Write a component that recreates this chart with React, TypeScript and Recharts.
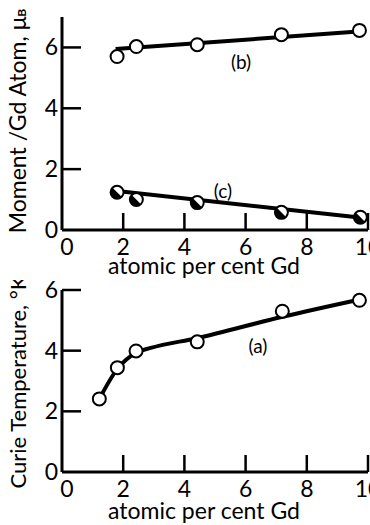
import { ComposedChart, Line, Scatter, XAxis, YAxis } from "recharts"

const xTicks = [0, 2, 4, 6, 8, 10]
const yTicks = [0, 2, 4, 6]

// (b) moment per Gd atom, open circles
const bX = [1.8, 2.43, 4.42, 7.17, 9.72]
const bY = [5.7, 6.03, 6.09, 6.42, 6.56]
const bFitX = [1.75, 9.8]
const bFitY = [5.95, 6.53]

// (c) half-filled circles
const cX = [1.8, 2.43, 4.42, 7.17, 9.75]
const cY = [1.24, 1.0, 0.9, 0.58, 0.42]
const cFitX = [1.8, 9.8]
const cFitY = [1.28, 0.4]

// (a) Curie temperature
const aX = [1.22, 1.81, 2.42, 4.42, 7.2, 9.72]
const aY = [2.41, 3.44, 3.99, 4.29, 5.3, 5.66]
const aCurveX = [1.22, 1.81, 2.42, 2.9, 4.4, 7.21, 9.74]
const aCurveY = [2.41, 3.4, 3.93, 4.09, 4.41, 5.12, 5.69]

const zip = (xs, ys) => xs.map((x, i) => ({ x, y: ys[i] }))

const FONT = "Lato"
const INK = "#000"

const T = ({ x, y, size = 23, anchor = "middle", rot, children }) => (
  <text x={x} y={y} fontSize={size} fontFamily={FONT} fill={INK} textAnchor={anchor}
    transform={rot ? `rotate(${rot} ${x} ${y})` : undefined}>
    {children}
  </text>
)

// x ticks point up into the plot; the first tick also carries the panel's free texts
const makeXTick = (extra) => ({ x, y, payload }) => (
  <g>
    {payload.value > 0 && <line x1={x} y1={y} x2={x} y2={y - 17} stroke={INK} strokeWidth={2.5} />}
    <T x={x + (payload.value === 0 ? 5 : 0)} y={y + 25}>{payload.value}</T>
    {payload.value === 0 && extra}
  </g>
)

const makeYTick = (extra) => ({ x, y, payload }) => (
  <g>
    {payload.value > 0 && <line x1={x} y1={y} x2={x + 19} y2={y} stroke={INK} strokeWidth={2.5} />}
    <T x={x - 4} y={y + 8} anchor="end">{payload.value}</T>
    {payload.value === 0 && extra}
  </g>
)

const topXTick = makeXTick(
  <g>
    <T x={204} y={274}>atomic per cent Gd</T>
    <T x={241} y={69} size={19}>(b)</T>
    <T x={223} y={198} size={19}>(c)</T>
  </g>
)
const topYTick = makeYTick(
  <T x={26} y={121} rot={-90}>
    Moment /Gd Atom, μ<tspan fontSize={12} fontWeight="bold">B</tspan>
  </T>
)
const botXTick = makeXTick(
  <g>
    <T x={204} y={239}>atomic per cent Gd</T>
    <T x={258} y={73} size={19}>(a)</T>
  </g>
)
const botYTick = makeYTick(
  <T x={26} y={102} size={22} rot={-90}>Curie Temperature, °K</T>
)

const OpenDot = ({ cx, cy }) => (
  <circle cx={cx} cy={cy} r={6.5} fill="#fff" stroke={INK} strokeWidth={2} />
)

const HalfDot = ({ cx, cy }) => {
  const r = 6.5
  const d = r * 0.707
  return (
    <g>
      <circle cx={cx} cy={cy} r={r} fill="#fff" stroke={INK} strokeWidth={2} />
      <path d={`M ${cx - d} ${cy - d} A ${r} ${r} 0 0 0 ${cx + d} ${cy + d} Z`} fill={INK} />
    </g>
  )
}

const axisLine = { stroke: INK, strokeWidth: 3 }

export default function App() {
  return (
    <div style={{ position: "absolute", left: 0, top: 0, width: 370, height: 525, background: "#fff" }}>
      <ComposedChart width={370} height={280} margin={{ top: 17, right: 2, left: 12, bottom: 0 }}>
        <XAxis dataKey="x" type="number" domain={[0, 10]} ticks={xTicks} height={50} tickSize={0} tickMargin={0}
          axisLine={axisLine} tickLine={false} tick={topXTick} interval={0} />
        <YAxis dataKey="y" type="number" domain={[0, 7]} ticks={yTicks} width={50} tickSize={0} tickMargin={0}
          axisLine={axisLine} tickLine={false} tick={topYTick} interval={0} />
        <Line data={zip(bFitX, bFitY)} dataKey="y" stroke={INK} strokeWidth={4} dot={false} isAnimationActive={false} />
        <Line data={zip(cFitX, cFitY)} dataKey="y" stroke={INK} strokeWidth={4} dot={false} isAnimationActive={false} />
        <Scatter data={zip(bX, bY)} dataKey="y" shape={OpenDot} isAnimationActive={false} />
        <Scatter data={zip(cX, cY)} dataKey="y" shape={HalfDot} isAnimationActive={false} />
      </ComposedChart>
      <ComposedChart width={370} height={245} margin={{ top: 10, right: 2, left: 12, bottom: 0 }}>
        <XAxis dataKey="x" type="number" domain={[0, 10]} ticks={xTicks} height={53} tickSize={0} tickMargin={0}
          axisLine={axisLine} tickLine={false} tick={botXTick} interval={0} />
        <YAxis dataKey="y" type="number" domain={[0, 6]} ticks={yTicks} width={50} tickSize={0} tickMargin={0}
          axisLine={axisLine} tickLine={false} tick={botYTick} interval={0} />
        <Line data={zip(aCurveX, aCurveY)} dataKey="y" type="monotone" stroke={INK} strokeWidth={4} dot={false} isAnimationActive={false} />
        <Scatter data={zip(aX, aY)} dataKey="y" shape={OpenDot} isAnimationActive={false} />
      </ComposedChart>
    </div>
  )
}
